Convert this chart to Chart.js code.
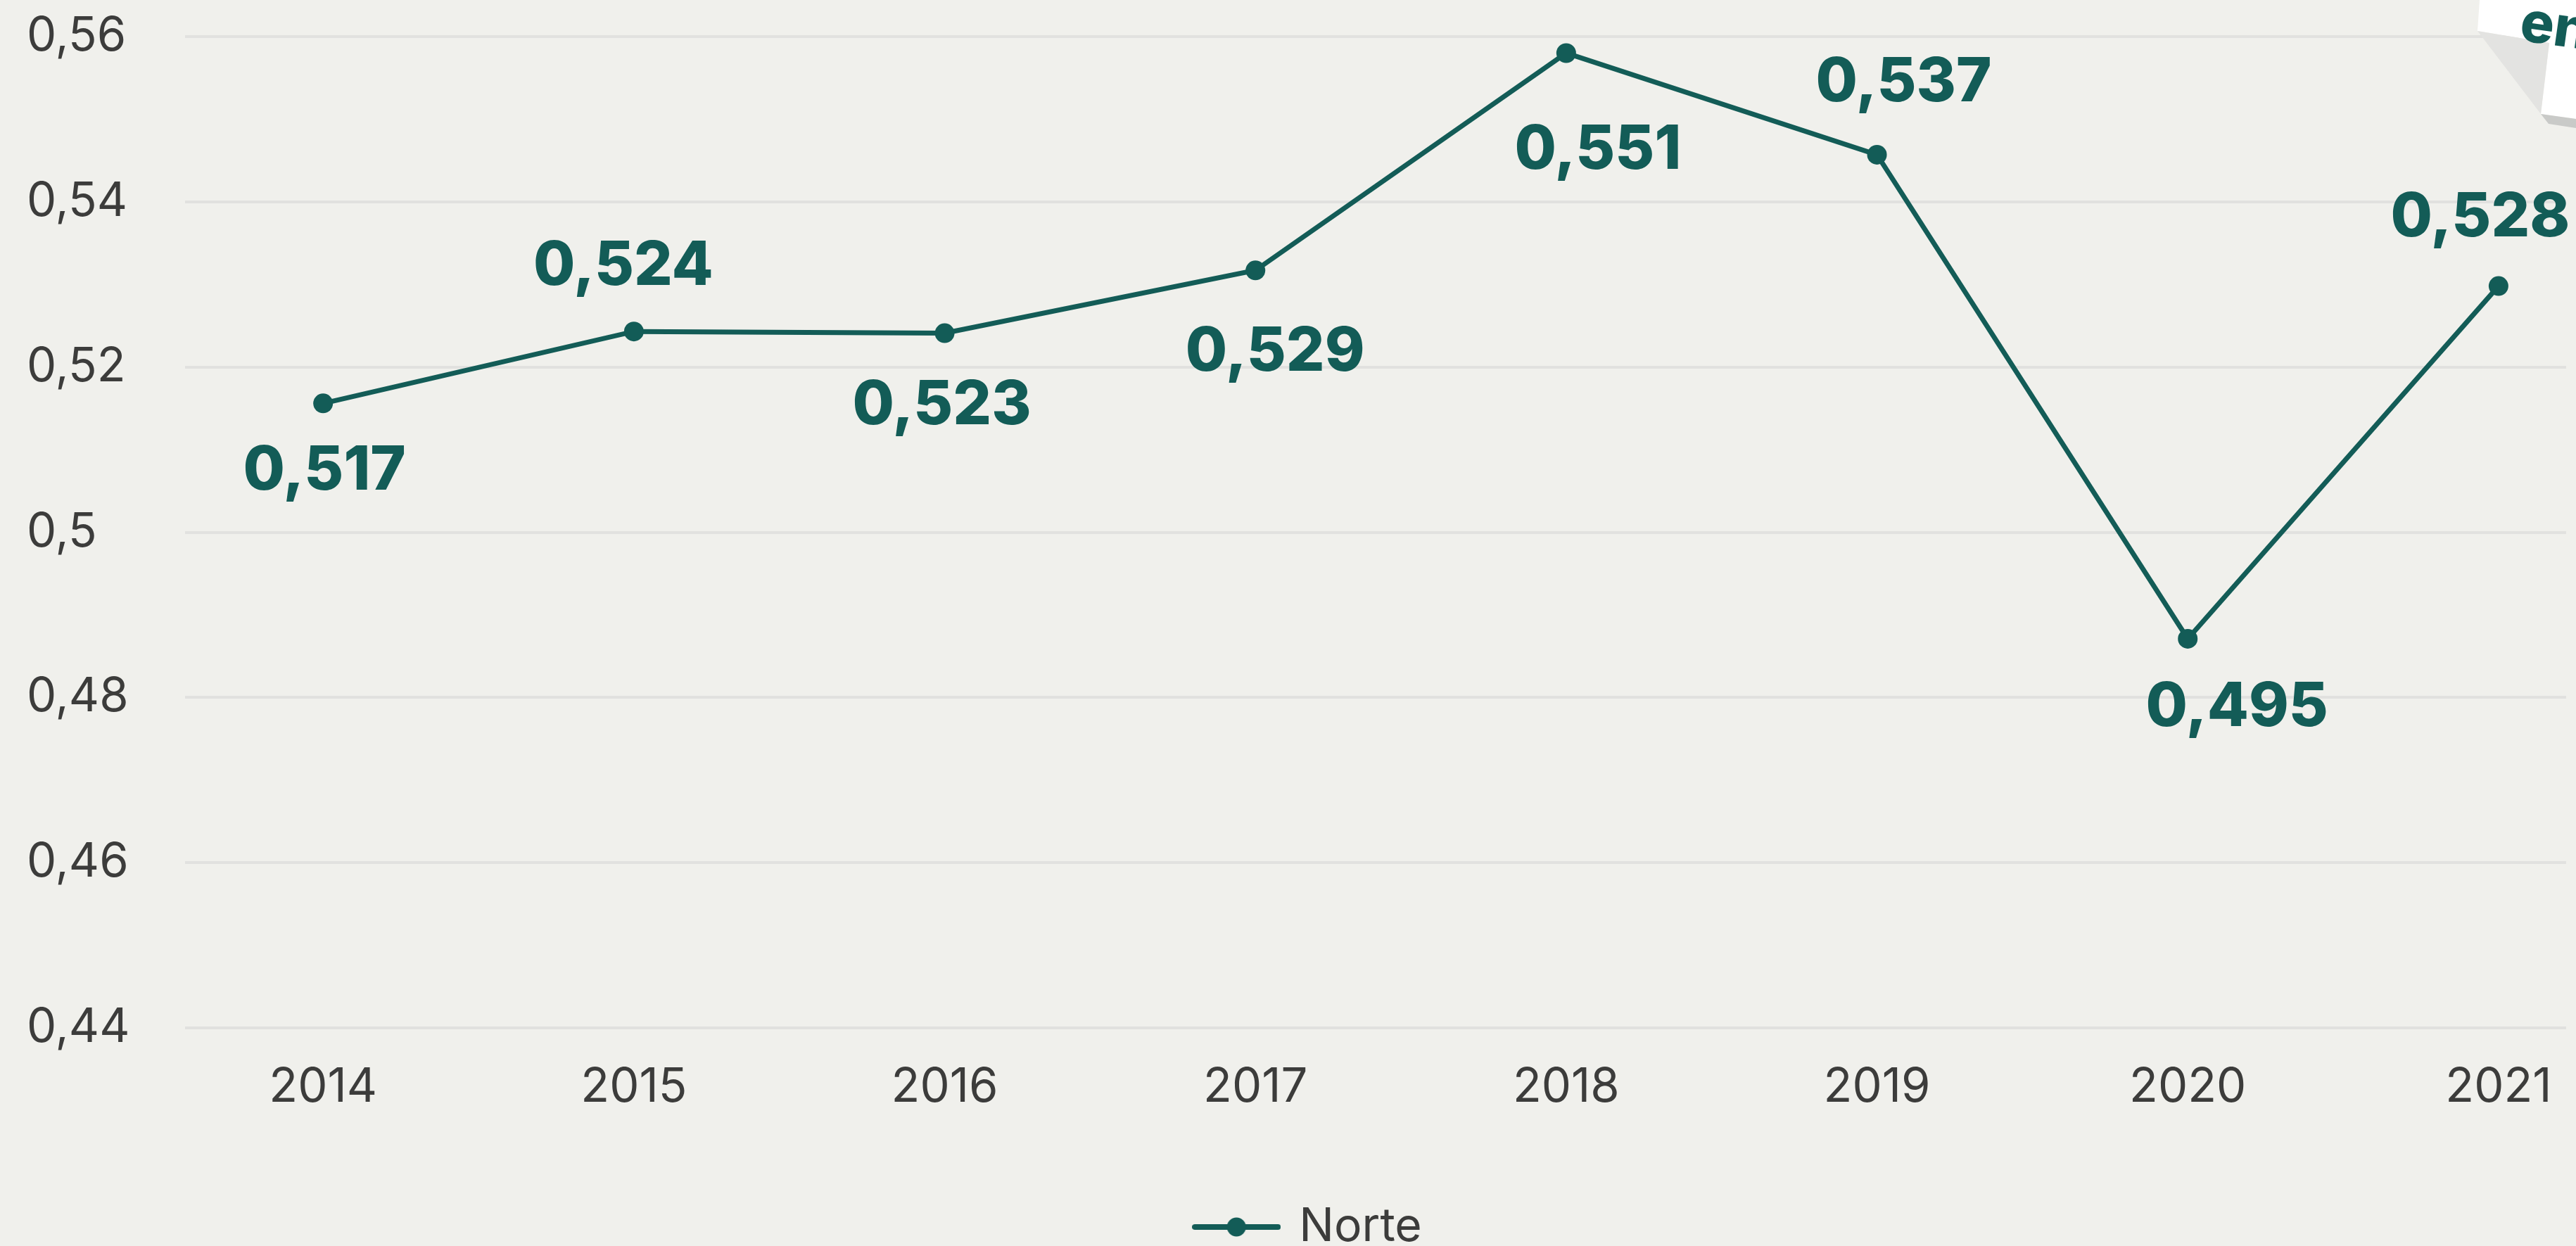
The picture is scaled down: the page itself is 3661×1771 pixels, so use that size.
<!DOCTYPE html>
<html>
<head>
<meta charset="utf-8">
<script src="https://cdn.jsdelivr.net/npm/chart.js@4/dist/chart.umd.min.js"></script>
<style>
  html, body { margin: 0; padding: 0; width: 3661px; height: 1771px; overflow: hidden; background: #f0f0ec; }
  #wrap { position: relative; width: 3661px; height: 1771px; }
  canvas { position: absolute; left: 0; top: 0; }
  #corner { position: absolute; left: 3461px; top: 0; }
</style>
</head>
<body>
<div id="wrap">
  <canvas id="c" width="3661" height="1771"></canvas>
  <svg id="corner" width="200" height="200" viewBox="3461 0 200 200">
    <polygon points="3524,0 3661,0 3661,169 3611,162 3623,61 3521,44" fill="#ffffff"/>
    <polygon points="3521,44 3623,61 3611,162" fill="#e3e3e1"/>
    <polygon points="3611,162 3661,169 3661,182 3622,176" fill="#c9cac8"/>
    <text x="3579" y="57" transform="rotate(8 3579 57)" font-family="Inter, 'Open Sans', sans-serif" font-weight="800" font-size="80" fill="#135c57">en</text>
  </svg>
</div>
<script>
// ---- data ----
const years = [2014, 2015, 2016, 2017, 2018, 2019, 2020, 2021];
const values = [0.5156, 0.5243, 0.5241, 0.5317, 0.5580, 0.5457, 0.4871, 0.5298];
const valueLabels = ['0,517', '0,524', '0,523', '0,529', '0,551', '0,537', '0,495', '0,528'];
const yTicks = [0.44, 0.46, 0.48, 0.50, 0.52, 0.54, 0.56];
const seriesName = 'Norte';

// label placement relative to each point (px)
const labelOffsets = [[2, 92], [-15, -97], [-4, 98], [28, 112], [45, 134], [38, -107], [70, 93], [-26, -102]];

const TEAL = '#135c57';
const GREY = '#3c3c3b';
const FONT = "Inter, 'Open Sans', 'Noto Sans', sans-serif";

// legend symbol: line with dot
const sym = document.createElement('canvas');
sym.width = 126; sym.height = 30;
(function () {
  const g = sym.getContext('2d');
  g.strokeStyle = TEAL; g.lineWidth = 8; g.lineCap = 'round';
  g.beginPath(); g.moveTo(4, 15); g.lineTo(122, 15); g.stroke();
  g.fillStyle = TEAL; g.beginPath(); g.arc(63, 15, 13.5, 0, Math.PI * 2); g.fill();
})();

const valueLabelPlugin = {
  id: 'valueLabels',
  afterDatasetsDraw(chart) {
    const meta = chart.getDatasetMeta(0);
    const ctx = chart.ctx;
    ctx.save();
    ctx.font = '800 86px ' + FONT;
    ctx.fillStyle = TEAL;
    ctx.textAlign = 'center';
    ctx.textBaseline = 'alphabetic';
    meta.data.forEach((pt, i) => {
      const [dx, dy] = labelOffsets[i];
      ctx.fillText(valueLabels[i], pt.x + dx, pt.y + dy + 31);
    });
    ctx.restore();
  }
};

new Chart(document.getElementById('c'), {
  type: 'line',
  data: {
    datasets: [{
      label: seriesName,
      data: years.map((y, i) => ({ x: y, y: values[i] })),
      borderColor: TEAL,
      backgroundColor: TEAL,
      borderWidth: 7,
      pointRadius: 14,
      pointHoverRadius: 14,
      pointBackgroundColor: TEAL,
      pointBorderWidth: 0,
      tension: 0,
      fill: false
    }]
  },
  options: {
    responsive: false,
    animation: false,
    devicePixelRatio: 1,
    layout: { padding: { left: 38, top: 52, right: -23, bottom: -16 } },
    plugins: {
      legend: {
        display: true,
        position: 'bottom',
        labels: {
          usePointStyle: true,
          pointStyle: sym,
          pointStyleWidth: 112,
          padding: 10,
          color: GREY,
          font: { family: FONT, size: 66, weight: '400' }
        }
      },
      tooltip: { enabled: false }
    },
    scales: {
      x: {
        type: 'linear',
        min: 2013.5558,
        max: 2021.2176,
        afterBuildTicks: (s) => { s.ticks = years.map(v => ({ value: v })); },
        afterFit: (s) => { s.height = 240; s.paddingLeft = 0; s.paddingRight = 0; },
        grid: { display: false, drawTicks: false },
        border: { display: false },
        ticks: {
          color: GREY,
          padding: 45,
          font: { family: FONT, size: 67, weight: '400' },
          callback: (v) => String(v),
          maxRotation: 0,
          autoSkip: false
        }
      },
      y: {
        min: 0.44,
        max: 0.56,
        afterBuildTicks: (s) => { s.ticks = yTicks.map(v => ({ value: v })); },
        afterFit: (s) => { s.width = 225; },
        grid: { color: '#e1e1df', lineWidth: 4, drawTicks: false },
        border: { display: false },
        ticks: {
          color: GREY,
          padding: 0,
          crossAlign: 'far',
          font: { family: FONT, size: 67, weight: '400' },
          callback: (v) => String(Math.round(v * 100) / 100).replace('.', ',')
        }
      }
    }
  },
  plugins: [valueLabelPlugin]
});
</script>
</body>
</html>
